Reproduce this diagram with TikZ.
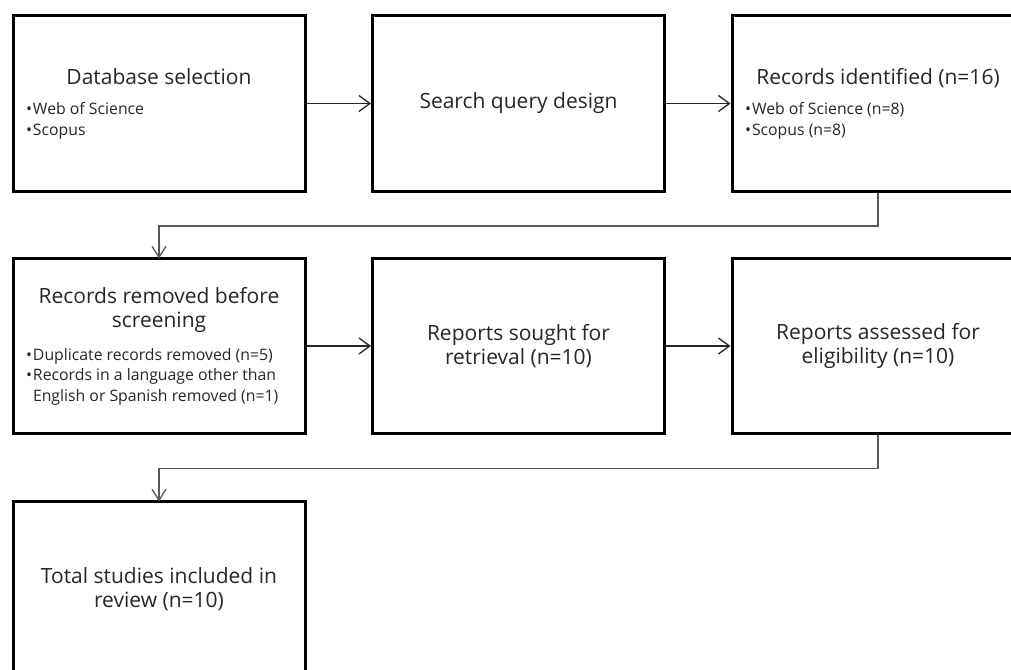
\documentclass[tikz,border=0pt]{standalone}
\usepackage{fontspec}
\setmainfont{Open Sans}
\usetikzlibrary{arrows.meta}
\newcommand{\ttl}[1]{{\fontsize{21}{24.5}\selectfont\centering #1\par}}
\newcommand{\blt}[1]{{\fontsize{15.8}{20.5}\selectfont\raggedright\hangindent=7pt\hangafter=1 \makebox[7pt][l]{•}#1\par}}
\newcommand{\gap}{\vspace{10pt}}
\begin{document}
\begin{tikzpicture}[x=1pt,y=-1pt,
  stepbox/.style={draw=black, line width=3pt, minimum width=292pt, minimum height=175pt, inner sep=0pt, anchor=north west, text=black!85},
  arr/.style={draw=black!85, line width=1.3pt, -{Straight Barb[length=11pt,width=16pt,line width=1.3pt]}},
  conn/.style={draw=black!65, line width=1.3pt, -{Straight Barb[length=11pt,width=14pt,line width=1.3pt]}}]
\useasboundingbox (0,0) rectangle (1011,669);
\clip (0,0) rectangle (1011,669);
\node[stepbox] (b1) at (11.5,14.5) {\begin{minipage}{266pt}\ttl{Database selection}\gap\blt{Web of Science}\blt{Scopus}\end{minipage}};
\node[stepbox] (b2) at (371,14.5) {\begin{minipage}{266pt}\ttl{Search query design}\end{minipage}};
\node[stepbox] (b3) at (730.5,14.5) {\begin{minipage}{266pt}\ttl{Records identified (n=16)}\gap\blt{Web of Science (n=8)}\blt{Scopus (n=8)}\end{minipage}};
\node[stepbox] (b4) at (11.5,257) {\begin{minipage}{266pt}\ttl{Records removed before\\ screening}\vspace{12pt}\blt{Duplicate records removed (n=5)}\blt{Records in a language other than\newline English or Spanish removed (n=1)}\end{minipage}};
\node[stepbox] (b5) at (371,257) {\begin{minipage}{266pt}\ttl{Reports sought for\\ retrieval (n=10)}\end{minipage}};
\node[stepbox] (b6) at (730.5,257) {\begin{minipage}{266pt}\ttl{Reports assessed for\\ eligibility (n=10)}\end{minipage}};
\node[stepbox] (b7) at (11.5,500) {\begin{minipage}{266pt}\ttl{Total studies included in\\ review (n=10)}\end{minipage}};
\draw[arr] (b1.east) -- (b2.west);
\draw[arr] (b2.east) -- (b3.west);
\draw[arr] (b4.east) -- (b5.west);
\draw[arr] (b5.east) -- (b6.west);
\draw[conn] (b3.south) -- ++(0,33.5) -| ([yshift=-1.5pt]b4.north);
\draw[conn] (b6.south) -- ++(0,33.5) -| ([yshift=-1.5pt]b7.north);
\end{tikzpicture}
\end{document}
